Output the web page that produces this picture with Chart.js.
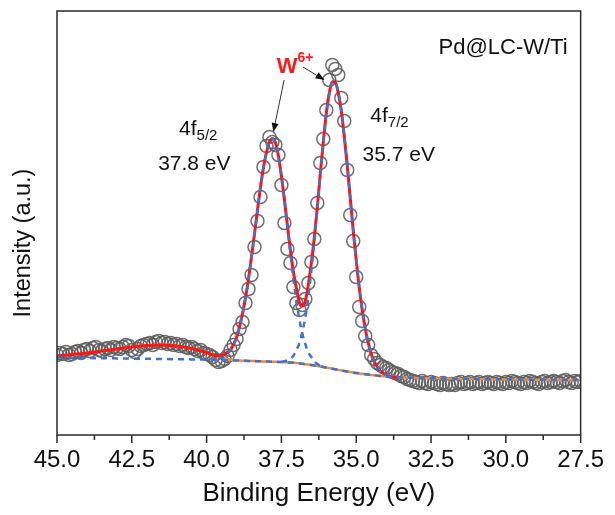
<!DOCTYPE html>
<html>
<head>
<meta charset="utf-8">
<script src="https://cdn.jsdelivr.net/npm/chart.js@4.4.1/dist/chart.umd.min.js"></script>
<style>
  html, body { margin: 0; padding: 0; background: #fff; }
  canvas { display: block; }
</style>
</head>
<body>
<canvas id="xpsChart" width="615" height="515"></canvas>
<script>
// measured spectrum (W 4f region)
const energy = [
  45.0,44.9,44.8,44.7,44.6,44.5,44.4,44.3,44.2,44.1,
  44.0,43.9,43.8,43.7,43.6,43.5,43.4,43.3,43.2,43.1,
  43.0,42.9,42.8,42.7,42.6,42.5,42.4,42.3,42.2,42.1,
  42.0,41.9,41.8,41.7,41.6,41.5,41.4,41.3,41.2,41.1,
  41.0,40.9,40.8,40.7,40.6,40.5,40.4,40.3,40.2,40.1,
  40.0,39.9,39.8,39.7,39.6,39.5,39.4,39.3,39.2,39.1,
  39.0,38.9,38.8,38.7,38.6,38.5,38.4,38.3,38.2,38.1,
  38.0,37.9,37.8,37.7,37.6,37.5,37.4,37.3,37.2,37.1,
  37.0,36.9,36.8,36.7,36.6,36.5,36.4,36.3,36.2,36.1,
  36.0,35.9,35.8,35.7,35.6,35.5,35.4,35.3,35.2,35.1,
  35.0,34.9,34.8,34.7,34.6,34.5,34.4,34.3,34.2,34.1,
  34.0,33.9,33.8,33.7,33.6,33.5,33.4,33.3,33.2,33.1,
  33.0,32.9,32.8,32.7,32.6,32.5,32.4,32.3,32.2,32.1,
  32.0,31.9,31.8,31.7,31.6,31.5,31.4,31.3,31.2,31.1,
  31.0,30.9,30.8,30.7,30.6,30.5,30.4,30.3,30.2,30.1,
  30.0,29.9,29.8,29.7,29.6,29.5,29.4,29.3,29.2,29.1,
  29.0,28.9,28.8,28.7,28.6,28.5,28.4,28.3,28.2,28.1,
  28.0,27.9,27.8,27.7,27.6,27.5
];
const counts = [
  80,82,81,83,80,81,83,84,82,85,
  86,84,87,88,85,84,86,87,85,88,
  87,86,88,90,89,85,83,86,89,90,
  91,92,90,93,94,92,93,91,92,90,
  91,89,90,88,87,88,86,84,85,82,
  81,80,78,75,73,74,76,79,85,90,
  96,106,113,132,146,160,188,214,238,268,
  289,298,293,290,280,250,212,186,172,148,
  132,125,130,136,152,173,196,232,272,296,
  325,355,370,366,360,337,314,265,220,194,
  158,128,114,99,90,80,76,72,70,68,
  67,65,63,62,61,59,58,56,55,54,
  53,52,54,52,51,53,52,51,50,52,
  51,50,51,50,52,53,51,52,53,51,
  52,53,51,52,53,52,51,53,52,51,
  53,52,54,53,52,51,53,52,54,53,
  52,51,53,54,52,53,54,53,52,54,
  55,53,52,54,53,54
];

// energy grid of the fitted curves
const fitEnergy = [
  45.0,44.5,44.0,43.5,43.0,42.5,42.0,41.5,41.0,40.5,40.0,39.7,
  39.6,39.5,39.4,39.3,39.2,39.1,39.0,38.9,38.8,38.7,
  38.6,38.5,38.4,38.3,38.2,38.1,38.0,37.9,37.8,37.7,
  37.6,37.5,37.4,37.3,37.2,37.1,37.0,36.9,36.8,36.7,
  36.6,36.5,36.4,36.3,36.2,36.1,36.0,35.9,35.8,35.7,
  35.6,35.5,35.4,35.3,35.2,35.1,35.0,34.9,34.8,34.7,
  34.6,34.5,34.4,34.3,34.2,34.1,34.0,33.9,33.8,33.7,
  33.6,
  33.0,32.0,31.0,30.0,29.0,28.0,27.5
];
// Shirley-type baseline (blue dashed)
const baseline = [
  77.5,77.3,77.0,76.8,76.6,76.4,76.2,76.0,75.8,75.6,75.4,75.2,
  75.1,75.0,74.9,74.8,74.7,74.6,74.5,74.4,74.3,74.2,
  74.1,74.0,73.9,73.8,73.7,73.6,73.5,73.4,73.3,73.2,
  73.1,73.0,72.8,72.6,72.4,72.2,72.0,71.6,71.2,70.8,
  70.4,70.0,69.5,69.0,68.5,68.0,67.5,66.9,66.3,65.7,
  65.1,64.5,64.0,63.5,63.0,62.5,62.0,61.6,61.2,60.8,
  60.4,60.0,59.7,59.4,59.1,58.8,58.5,58.3,58.1,57.9,
  57.7,
  57.0,56.5,56.0,55.6,55.3,55.0,55.0
];
// background incl. the broad feature near 42 eV (orange)
const background = [
  79,80.5,82,84,86,88,89.5,90,89,86.5,82.5,79.5,
  78.5,77.5,76.5,75.8,75.2,74.8,74.5,74.4,74.3,74.2,
  74.1,74.0,73.9,73.8,73.7,73.6,73.5,73.4,73.3,73.2,
  73.1,73.0,72.8,72.6,72.4,72.2,72.0,71.6,71.2,70.8,
  70.4,70.0,69.5,69.0,68.5,68.0,67.5,66.9,66.3,65.7,
  65.1,64.5,64.0,63.5,63.0,62.5,62.0,61.6,61.2,60.8,
  60.4,60.0,59.7,59.4,59.1,58.8,58.5,58.3,58.1,57.9,
  57.7,
  57.0,56.5,56.0,55.6,55.3,55.0,55.0
];
// cumulative fit (red), 45.0 -> 33.6 eV
const envelope = [
  79,80.5,82,84,86,88,89.5,90,89,86.5,82.5,79.5,
  79.5,79.5,80.5,82.8,85.2,90.8,97.5,108.4,121.3,137.2,
  156.1,178,200.9,224.8,247.7,267.6,282.5,293.4,296.3,292.2,
  279.1,259,235.8,209.6,185.4,163.2,147,132.5,129,134,
  150.4,172,197.5,228,261.5,293,321.5,341.9,353.3,352.7,
  342.1,324.5,299,269.5,237,204.5,175,147.6,125.2,106.8,
  92.4,81,73.7,68.4,64.1,61.8,60.5,59.3,58.1,57.9,
  57.7
];
// W 4f5/2 component, 39.6 -> 36.1 eV
const peak52 = [
  76.1,77,78.9,81.8,84.7,90.6,97.5,108.4,121.3,137.2,
  156.1,178,200.9,224.8,247.7,267.6,282.5,293.4,296.3,292.2,
  279.1,259,234.8,207.6,181.4,156.2,134,115.6,101.2,90.8,
  82.4,78,73.5,71,69.5,68
];
// W 4f7/2 component, 37.5 -> 33.8 eV
const peak72 = [
  73,73.8,74.6,76.4,79.2,85,91.6,103.2,117.8,138.4,
  164,193.5,226,260.5,293,321.5,341.9,353.3,352.7,342.1,
  324.5,299,269.5,237,204.5,175,147.6,125.2,106.8,92.4,
  81,73.7,68.4,64.1,61.8,60.5,59.3,58.1
];
const xTicks = { min: 27.5, max: 45, step: 2.5 };

const toPoints = (xs, ys) => ys.map((y, i) => ({ x: xs[i], y }));

Chart.defaults.font.family = "'Liberation Sans', Arial, sans-serif";
Chart.defaults.color = '#111';

const blue = '#3d72d9';

// frame round the plot, and major/minor tick marks on the energy axis
const frameTicks = {
  id: 'frameTicks',
  afterDraw(chart) {
    const { ctx, chartArea: a, scales: { x } } = chart;
    ctx.save();
    ctx.strokeStyle = '#2a2a2a';
    ctx.lineWidth = 1.5;
    ctx.strokeRect(a.left, a.top, a.right - a.left, a.bottom - a.top);
    ctx.beginPath();
    x.ticks.forEach((t, i) => {
      const px = x.getPixelForValue(t.value);
      ctx.moveTo(px, a.bottom);
      ctx.lineTo(px, a.bottom + 8);
      if (i < x.ticks.length - 1) {
        const mid = x.getPixelForValue((t.value + x.ticks[i + 1].value) / 2);
        ctx.moveTo(mid, a.bottom);
        ctx.lineTo(mid, a.bottom + 5);
      }
    });
    ctx.stroke();
    ctx.restore();
  }
};

// text labels and arrows, placed in data units
const labels = {
  id: 'labels',
  afterDatasetsDraw(chart) {
    const { ctx, scales: { x, y }, chartArea: a } = chart;
    const X = v => x.getPixelForValue(v);
    const Y = v => y.getPixelForValue(v);
    const fam = Chart.defaults.font.family;
    ctx.save();
    ctx.textBaseline = 'alphabetic';
    ctx.textAlign = 'left';

    const withSub = (e, v, main, sub) => {
      ctx.font = '21px ' + fam;
      ctx.fillStyle = '#111';
      ctx.fillText(main, X(e), Y(v));
      const w = ctx.measureText(main).width;
      ctx.font = '15px ' + fam;
      ctx.fillText(sub, X(e) + w, Y(v) + 5);
    };
    withSub(40.92, 300, '4f', '5/2');
    withSub(34.53, 313, '4f', '7/2');

    ctx.font = '21px ' + fam;
    ctx.fillText('37.8 eV', X(41.62), Y(265));
    ctx.fillText('35.7 eV', X(34.79), Y(274));
    ctx.font = '22px ' + fam;
    ctx.fillText('Pd@LC-W/Ti', X(32.25), Y(381));

    // W6+ in red bold
    ctx.fillStyle = '#ff1a1a';
    ctx.font = 'bold 22px ' + fam;
    ctx.fillText('W', X(37.66), Y(362));
    const ww = ctx.measureText('W').width;
    ctx.font = 'bold 14px ' + fam;
    ctx.fillText('6+', X(37.66) + ww, Y(373));

    const arrow = (e0, v0, e1, v1) => {
      const x0 = X(e0), y0 = Y(v0), x1 = X(e1), y1 = Y(v1);
      const ang = Math.atan2(y1 - y0, x1 - x0);
      ctx.strokeStyle = '#333';
      ctx.lineWidth = 1;
      ctx.beginPath();
      ctx.moveTo(x0, y0);
      ctx.lineTo(x1 - 7 * Math.cos(ang), y1 - 7 * Math.sin(ang));
      ctx.stroke();
      ctx.fillStyle = '#111';
      ctx.beginPath();
      ctx.moveTo(x1, y1);
      ctx.lineTo(x1 - 9 * Math.cos(ang) + 3.5 * Math.sin(ang), y1 - 9 * Math.sin(ang) - 3.5 * Math.cos(ang));
      ctx.lineTo(x1 - 9 * Math.cos(ang) - 3.5 * Math.sin(ang), y1 - 9 * Math.sin(ang) + 3.5 * Math.cos(ang));
      ctx.closePath();
      ctx.fill();
    };
    arrow(37.41, 355, 37.77, 303);
    arrow(36.78, 368, 36.06, 355);

    // y axis title
    ctx.fillStyle = '#111';
    ctx.font = '23.5px ' + fam;
    ctx.textAlign = 'center';
    ctx.textBaseline = 'middle';
    ctx.translate(24, (a.top + a.bottom) / 2 + 20);
    ctx.rotate(-Math.PI / 2);
    ctx.fillText('Intensity (a.u.)', 0, 0);
    ctx.restore();
  }
};

const lineStyle = (color, width, dash, order) => ({
  type: 'scatter',
  showLine: true,
  borderColor: color,
  backgroundColor: color,
  borderWidth: width,
  borderDash: dash,
  pointRadius: 0,
  cubicInterpolationMode: 'monotone',
  order
});

new Chart(document.getElementById('xpsChart'), {
  type: 'scatter',
  data: {
    datasets: [
      {
        label: 'Raw data',
        data: toPoints(energy, counts),
        pointStyle: 'circle',
        pointRadius: 6.5,
        borderWidth: 1.5,
        borderColor: 'rgba(95,95,95,0.9)',
        backgroundColor: 'rgba(255,255,255,0)',
        order: 5
      },
      Object.assign({ label: 'Background', data: toPoints(fitEnergy, background) }, lineStyle('#f28a2e', 2.5, [], 4)),
      Object.assign({ label: 'Fit', data: toPoints(fitEnergy, envelope) }, lineStyle('#ff1414', 3, [], 3)),
      Object.assign({ label: 'Baseline', data: toPoints(fitEnergy, baseline) }, lineStyle(blue, 2.5, [6, 5], 2)),
      Object.assign({ label: 'W 4f5/2', data: toPoints(fitEnergy.slice(12, 48), peak52) }, lineStyle(blue, 2.5, [6, 5], 1)),
      Object.assign({ label: 'W 4f7/2', data: toPoints(fitEnergy.slice(33, 71), peak72) }, lineStyle(blue, 2.5, [6, 5], 1))
    ]
  },
  options: {
    responsive: false,
    animation: false,
    layout: { padding: { top: 11, right: 30, left: 0, bottom: 0 } },
    plugins: {
      legend: { display: false },
      tooltip: { enabled: false }
    },
    scales: {
      x: {
        type: 'linear',
        reverse: true,
        min: xTicks.min,
        max: xTicks.max,
        ticks: {
          stepSize: xTicks.step,
          callback: v => v.toFixed(1),
          font: { size: 24 },
          color: '#111',
          padding: 11,
          maxRotation: 0,
          autoSkip: false
        },
        grid: { display: false, drawTicks: false },
        border: { display: false },
        title: {
          display: true,
          text: 'Binding Energy (eV)',
          font: { size: 26 },
          color: '#111',
          padding: { top: 0, bottom: 6 }
        },
        afterFit: s => { s.height = 80; }
      },
      y: {
        min: 0,
        max: 424,
        ticks: { display: false },
        grid: { display: false, drawTicks: false },
        border: { display: false },
        afterFit: s => { s.width = 57; }
      }
    }
  },
  plugins: [frameTicks, labels]
});
</script>
</body>
</html>
